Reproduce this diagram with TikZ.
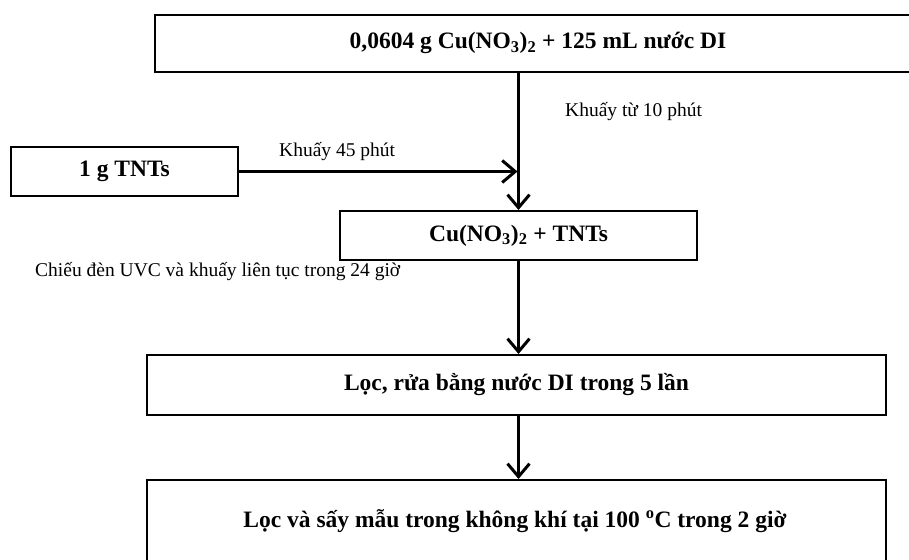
\documentclass[tikz,border=0pt]{standalone}
\usepackage{fontspec}
\setmainfont{Liberation Serif}
\usepackage{tikz}
\usetikzlibrary{arrows.meta,calc}

\tikzset{
  hop/.style={draw,line width=2pt,inner sep=0pt},
  dam/.style={font=\fontsize{23.5}{27}\selectfont\bfseries},
  nhan/.style={anchor=west,inner sep=0pt,font=\fontsize{19.5}{23}\selectfont},
  mui/.style={-{Straight Barb[length=13pt,width=22pt,line width=3pt]},line width=3pt},
}

\begin{document}
\begin{tikzpicture}[x=1pt,y=-1pt]
  \useasboundingbox (0,0) rectangle (909,559);
  \clip (0,0) rectangle (909,559);
  \node[hop,minimum width=800pt,minimum height=57pt] (dau) at (555,43.5) {};
  \node[dam] (dauchu) at (538,43) {0,0604 g Cu(NO\textsubscript{3})\textsubscript{2} + 125 mL nước DI};
  \node[hop,dam,minimum width=227pt,minimum height=49pt] (tnt) at (124.5,171.5) {1 g TNTs};
  \node[hop,dam,minimum width=357pt,minimum height=49pt] (tron) at (518.5,235.5) {Cu(NO\textsubscript{3})\textsubscript{2} + TNTs};
  \node[hop,dam,minimum width=739pt,minimum height=60pt] (loc) at (516.5,385) {Lọc, rửa bằng nước DI trong 5 lần};
  \node[hop,minimum width=739pt,minimum height=100pt] (say) at (516.5,530) {};
  \node[dam] (saychu) at (515,521) {Lọc và sấy mẫu trong không khí tại 100 \textsuperscript{o}C trong 2 giờ};
  \node[nhan] (nhan1) at (565,112) {Khuấy từ 10 phút};
  \node[nhan] (nhan2) at (279,152) {Khuấy 45 phút};
  \node[nhan] (nhan3) at (35,272) {Chiếu đèn UVC và khuấy liên tục trong 24 giờ};
  \draw[mui] (dau.south -| tron.north) -- (tron.north);
  \draw[mui] (tnt.east) -- ($(tnt.east -| tron.north)+(-1,0)$);
  \draw[mui] (tron.south) -- (tron.south |- loc.north);
  \draw[mui] (loc.south -| tron.south) -- (tron.south |- say.north);
\end{tikzpicture}
\end{document}
